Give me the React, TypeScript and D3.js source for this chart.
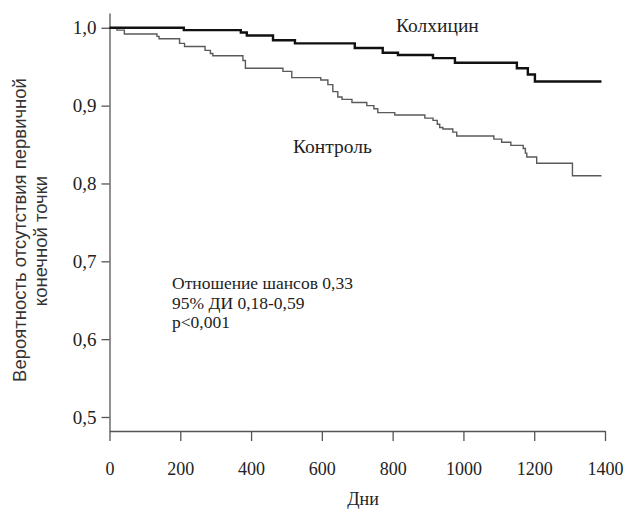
import React, { useRef, useEffect } from "react";
import * as d3 from "d3";

// Kaplan-Meier steps (days, survival after the step)
const colchicineDays = [0, 210, 371, 388, 462, 524, 693, 772, 815, 914, 976, 1151, 1182, 1202, 1390];
const colchicineSurv = [1.0, 0.997, 0.994, 0.99, 0.984, 0.98, 0.974, 0.968, 0.965, 0.961, 0.955, 0.948, 0.94, 0.931, 0.931];

const controlDays = [
  0, 21, 42, 134, 140, 198, 212, 270, 285, 292,
  377, 384, 490, 515, 597, 617, 631, 645, 657, 685,
  727, 747, 758, 806, 891, 914, 926, 933, 942, 970,
  981, 1086, 1108, 1134, 1169, 1175, 1179, 1207, 1308, 1390,
];
const controlSurv = [
  1.0, 0.997, 0.992, 0.989, 0.986, 0.98, 0.976, 0.971, 0.967, 0.964,
  0.958, 0.948, 0.944, 0.936, 0.933, 0.927, 0.918, 0.911, 0.908, 0.904,
  0.9, 0.896, 0.891, 0.888, 0.884, 0.881, 0.876, 0.872, 0.87, 0.866,
  0.861, 0.857, 0.853, 0.849, 0.845, 0.839, 0.834, 0.826, 0.81, 0.81,
];

const xTicks = [0, 200, 400, 600, 800, 1000, 1200, 1400];
const yTicks = [0.5, 0.6, 0.7, 0.8, 0.9, 1.0];

const statsLines = ["Отношение шансов 0,33", "95% ДИ 0,18-0,59", "p<0,001"];

const SERIF = "'Liberation Serif', 'Times New Roman', serif";
const SANS = "'Liberation Sans', Arial, sans-serif";

const App = () => {
  const ref = useRef<SVGSVGElement>(null);
  const width = 634;
  const height = 511;

  useEffect(() => {
    const svg = d3.select(ref.current);
    svg.selectAll("*").remove();

    const x = d3.scaleLinear().domain([0, 1400]).range([109.5, 605]);
    const y = d3.scaleLinear().domain([0.482, 1.019]).range([431, 13]);
    const axisColor = "#555";

    // X axis
    const gx = svg
      .append("g")
      .attr("transform", `translate(0,${y(0.482)})`)
      .call(
        d3
          .axisBottom(x)
          .tickValues(xTicks)
          .tickSizeInner(10)
          .tickSizeOuter(0)
          .tickPadding(21)
          .tickFormat((d) => String(d))
      );
    gx.selectAll("path, line").attr("stroke", axisColor).attr("stroke-width", 1.3);
    gx.selectAll("text")
      .attr("font-family", SERIF)
      .attr("font-size", 18)
      .attr("fill", "#222");

    // Y axis
    const gy = svg
      .append("g")
      .attr("transform", `translate(${x(0)},0)`)
      .call(
        d3
          .axisLeft(y)
          .tickValues(yTicks)
          .tickSizeInner(8)
          .tickSizeOuter(0)
          .tickPadding(5)
          .tickFormat((d) => d3.format(".1f")(d as number).replace(".", ","))
      );
    gy.selectAll("path, line").attr("stroke", axisColor).attr("stroke-width", 1.3);
    gy.selectAll("text")
      .attr("font-family", SERIF)
      .attr("font-size", 19)
      .attr("fill", "#222");

    const line = d3
      .line<[number, number]>()
      .x((d) => x(d[0]))
      .y((d) => y(d[1]))
      .curve(d3.curveStepAfter);

    const control = controlDays.map((t, i) => [t, controlSurv[i]] as [number, number]);
    const colchicine = colchicineDays.map((t, i) => [t, colchicineSurv[i]] as [number, number]);

    svg
      .append("path")
      .datum(control)
      .attr("d", line)
      .attr("fill", "none")
      .attr("stroke", "#5a5a5a")
      .attr("stroke-width", 1.4);

    svg
      .append("path")
      .datum(colchicine)
      .attr("d", line)
      .attr("fill", "none")
      .attr("stroke", "#111")
      .attr("stroke-width", 2.4);

    // Series labels
    svg
      .append("text")
      .attr("x", 396)
      .attr("y", 32)
      .attr("font-family", SERIF)
      .attr("font-size", 19.5)
      .attr("fill", "#222")
      .text("Колхицин");

    svg
      .append("text")
      .attr("x", 293)
      .attr("y", 153)
      .attr("font-family", SERIF)
      .attr("font-size", 19.5)
      .attr("fill", "#222")
      .text("Контроль");

    // Statistics
    svg
      .append("g")
      .selectAll("text")
      .data(statsLines)
      .join("text")
      .attr("x", 172)
      .attr("y", (d, i) => 289 + i * 19.5)
      .attr("font-family", SERIF)
      .attr("font-size", 17.5)
      .attr("fill", "#222")
      .text((d) => d);

    // Axis titles
    svg
      .append("text")
      .attr("x", 363)
      .attr("y", 505)
      .attr("text-anchor", "middle")
      .attr("font-family", SERIF)
      .attr("font-size", 18)
      .attr("fill", "#222")
      .text("Дни");

    svg
      .append("text")
      .attr("transform", "translate(26,230) rotate(-90)")
      .attr("text-anchor", "middle")
      .attr("font-family", SANS)
      .attr("font-size", 18.5)
      .attr("fill", "#333")
      .text("Вероятность отсутствия первичной");

    svg
      .append("text")
      .attr("transform", "translate(47,241) rotate(-90)")
      .attr("text-anchor", "middle")
      .attr("font-family", SANS)
      .attr("font-size", 18.5)
      .attr("fill", "#333")
      .text("конечной точки");
  }, []);

  return (
    <svg
      ref={ref}
      width={width}
      height={height}
      style={{ position: "absolute", left: 0, top: 0, background: "#fff" }}
    />
  );
};

export default App;
